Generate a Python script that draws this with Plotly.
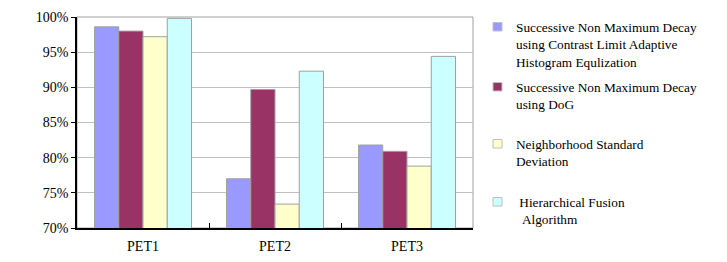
import plotly.graph_objects as go

categories = ["PET1", "PET2", "PET3"]
series_names = [
    "Successive Non Maximum Decay<br>using Contrast Limit Adaptive<br>Histogram Equlization",
    "Successive Non Maximum Decay<br>using DoG",
    "Neighborhood Standard<br>Deviation",
    " Hierarchical Fusion<br>  Algorithm",
]
clahe_vals = [98.6, 77.0, 81.8]
dog_vals = [98.0, 89.7, 80.9]
nsd_vals = [97.2, 73.4, 78.8]
hfa_vals = [99.8, 92.3, 94.4]
colors = ["#9999FF", "#993366", "#FFFFCC", "#CCFFFF"]
tick_vals = [70, 75, 80, 85, 90, 95, 100]
tick_text = ["70%", "75%", "80%", "85%", "90%", "95%", "100%"]

FONT = "Liberation Serif, Times New Roman, serif"
fig = go.Figure()
for vals, col in zip([clahe_vals, dog_vals, nsd_vals, hfa_vals], colors):
    fig.add_trace(go.Bar(x=categories, y=vals, marker=dict(color=col, line=dict(color="#A0A0A0", width=1)),
                         showlegend=False))

OFF = 8  # page body margin
W, H = 727 - OFF, 262 - OFF
L, T = 77 - OFF, 17 - OFF
PW, PH = 396, 211
R, B = W - L - PW, H - T - PH
fig.update_layout(
    width=W, height=H,
    margin=dict(l=L, r=R, t=T, b=B, autoexpand=False),
    paper_bgcolor="white", plot_bgcolor="white",
    barmode="group", bargap=0.265, bargroupgap=0,
    font=dict(family=FONT, size=14, color="black"),
)
fig.update_yaxes(range=[70, 100], tickvals=tick_vals, ticktext=tick_text, automargin=False,
                 showgrid=True, gridcolor="#C0C0C0", gridwidth=1,
                 showline=True, linecolor="black", linewidth=1.5,
                 ticks="outside", ticklen=4, tickcolor="black", zeroline=False,
                 tickfont=dict(family=FONT, size=14))
fig.update_xaxes(showline=True, linecolor="black", linewidth=1.5, automargin=False,
                 ticks="inside", tickson="boundaries", ticklen=5, tickcolor="black",
                 ticklabelstandoff=4,
                 tickfont=dict(family=FONT, size=14))
fig.add_shape(type="rect", xref="paper", yref="paper", x0=0, x1=1, y0=0, y1=1,
              line=dict(color="#A0A0A0", width=1), layer="below")

# legend drawn manually (page pixel positions from reference)
legend_y = [27, 87, 144, 202]
text_x = 514
def px_x(x):
    return (x - OFF - L) / PW
def px_y(y):
    return 1 - (y - OFF - T) / PH
for name, col, yy in zip(series_names, colors, legend_y):
    fig.add_shape(type="rect", xref="paper", yref="paper",
                  x0=px_x(493), x1=px_x(502), y0=px_y(yy + 4), y1=px_y(yy - 4.5),
                  fillcolor=col, line=dict(color="#C0C0C0", width=1))
    fig.add_annotation(xref="paper", yref="paper",
                       x=px_x(text_x), y=px_y(yy - 9),
                       xanchor="left", yanchor="top", align="left", showarrow=False,
                       text=name, font=dict(family=FONT, size=13.3, color="black"))

fig.write_html("out.html")
